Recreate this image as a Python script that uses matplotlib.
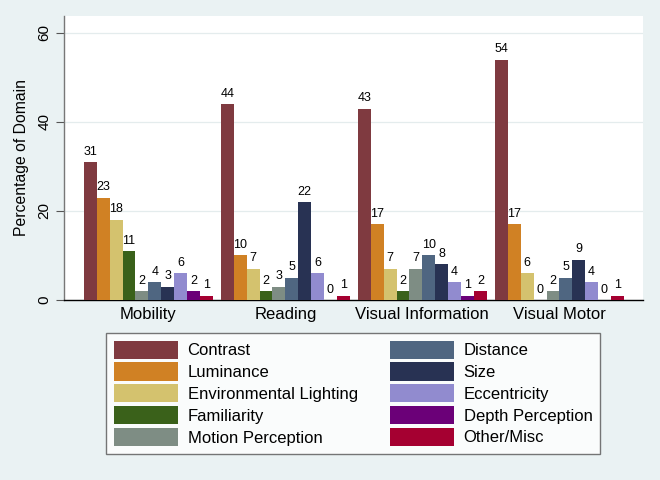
import numpy as np
import matplotlib
matplotlib.use("Agg")
import matplotlib.pyplot as plt
from matplotlib.patches import Patch

# ─── Data ─────────────────────────────────────────────
domains = ["Mobility", "Reading", "Visual Information", "Visual Motor"]
factors = ["Contrast", "Luminance", "Environmental Lighting", "Familiarity",
           "Motion Perception", "Distance", "Size", "Eccentricity",
           "Depth Perception", "Other/Misc"]
contrast = [31, 44, 43, 54]
luminance = [23, 10, 17, 17]
env_lighting = [18, 7, 7, 6]
familiarity = [11, 2, 2, 0]
motion = [2, 3, 7, 2]
distance = [4, 5, 10, 5]
size = [3, 22, 8, 9]
eccentricity = [6, 6, 4, 4]
depth = [2, 0, 1, 0]
other = [1, 1, 2, 1]
series = [contrast, luminance, env_lighting, familiarity, motion,
          distance, size, eccentricity, depth, other]

colors = ["#7f3a40", "#d08124", "#d4c26e", "#3a611a", "#7e8d84",
          "#4f6681", "#283253", "#918bcf", "#6b0078", "#a50031"]

BG = "#eaf2f3"

plt.rcParams["font.family"] = ["Liberation Sans", "DejaVu Sans"]

fig = plt.figure(figsize=(6.6, 4.8), dpi=100, facecolor=BG)
ax = fig.add_axes([64 / 660, 1 - 300 / 480, (643 - 64) / 660, (300 - 16) / 480])
ax.set_facecolor("white")

x = np.arange(len(domains))
n = len(series)
group_w = 0.94
bw = group_w / n
for i, (vals, c) in enumerate(zip(series, colors)):
    pos = x - group_w / 2 + bw * (i + 0.5)
    ax.bar(pos, vals, width=bw, color=c, linewidth=0, zorder=3)
    for p, v in zip(pos, vals):
        ax.text(p, v + 1.0, str(v), ha="center", va="bottom",
                fontsize=9, zorder=4)

ax.set_xlim(-0.615, 3.61)
ax.set_ylim(0, 63.8)
ax.set_yticks([0, 20, 40, 60])
ax.set_yticklabels(["0", "20", "40", "60"], rotation=90, va="center",
                   fontsize=11)
ax.set_xticks(x)
ax.set_xticklabels(domains, fontsize=12)
ax.tick_params(axis="x", length=0, pad=5)
ax.tick_params(axis="y", length=6, width=0.8, color="#555555", pad=3)
ax.set_ylabel("Percentage of Domain", fontsize=11.3, labelpad=6)

ax.grid(axis="y", color="#e4eced", linewidth=0.9, zorder=0)
ax.spines["top"].set_visible(False)
ax.spines["right"].set_visible(False)
ax.spines["left"].set_color("#777777")
ax.spines["bottom"].set_color("black")
ax.spines["left"].set_linewidth(1.0)
ax.spines["bottom"].set_linewidth(1.0)

handles = [Patch(facecolor=c, edgecolor="none", label=f)
           for f, c in zip(factors, colors)]
leg = fig.legend(handles=handles, ncol=2, loc="upper left",
                 bbox_to_anchor=(106 / 660, 1 - 333 / 480),
                 fontsize=12, frameon=True, fancybox=False,
                 handlelength=3.84, handleheight=1.3, handletextpad=0.6,
                 labelspacing=0.22, columnspacing=1.92, borderpad=0.45,
                 borderaxespad=0)
leg.get_frame().set_edgecolor("#555555")
leg.get_frame().set_linewidth(1.0)

fig.savefig("out.png", dpi=100, facecolor=BG)
